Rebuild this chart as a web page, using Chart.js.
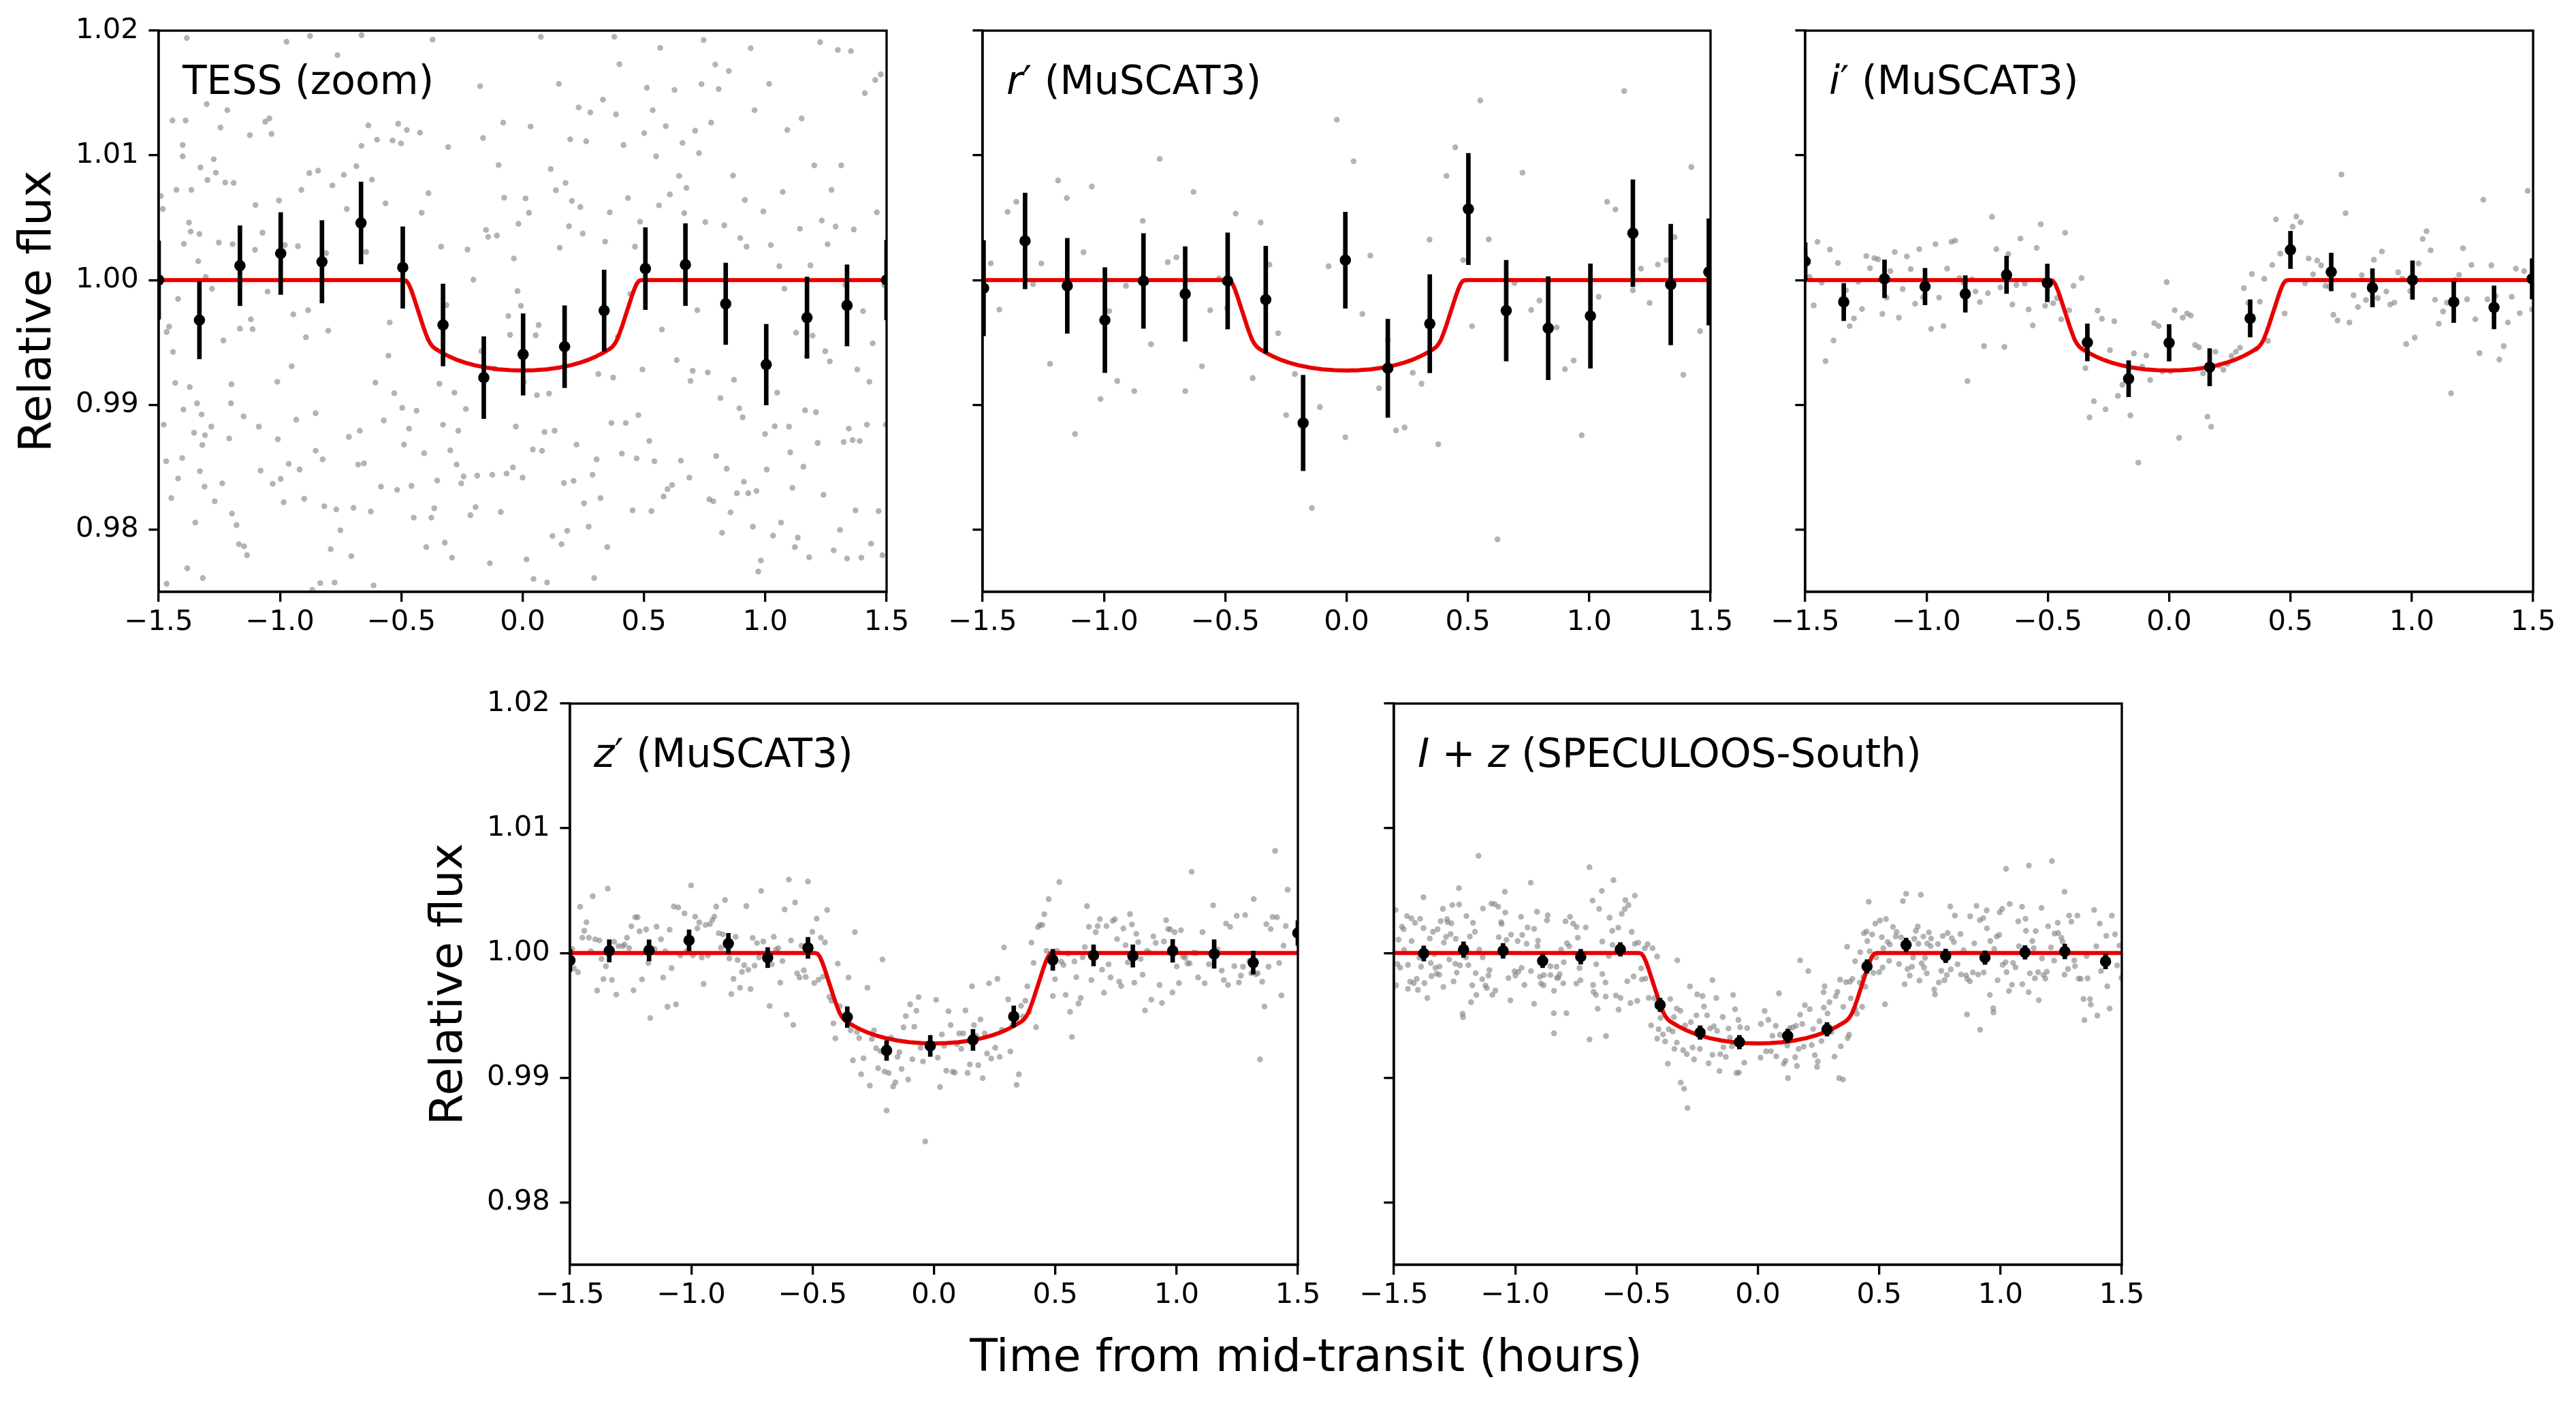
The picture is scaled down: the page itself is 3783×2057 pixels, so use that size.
<!DOCTYPE html>
<html>
<head>
<meta charset="utf-8">
<title>Transit light curves</title>
<script src="https://cdn.jsdelivr.net/npm/chart.js@4.4.1/dist/chart.umd.min.js"></script>
<style>
  html, body { margin: 0; padding: 0; background: #fff; }
  #figure { position: relative; width: 3783px; height: 2057px; background: #fff; overflow: hidden; }
  #figure canvas { position: absolute; }
  #xlabel { position: absolute; left: 1918px; top: 1957px; transform: translateX(-50%);
            font: 66.7px/1 "DejaVu Sans", sans-serif; white-space: nowrap; color: #000; }
</style>
</head>
<body>
<div id="figure">
  <canvas id="tess"></canvas>
  <canvas id="rband"></canvas>
  <canvas id="iband"></canvas>
  <canvas id="zband"></canvas>
  <canvas id="izband"></canvas>
  <div id="xlabel">Time from mid-transit (hours)</div>
</div>
<script>
// ---- axes ----
const timeTicks = [-1.5, -1.0, -0.5, 0.0, 0.5, 1.0, 1.5];
const fluxTicks = [0.98, 0.99, 1.00, 1.01, 1.02];

// ---- transit model (flux offsets in ppt) ----
const modelTime = [-1.5, -0.49, -0.48, -0.47, -0.46, -0.45, -0.44, -0.43, -0.42, -0.41, -0.40, -0.39, -0.38, -0.37, -0.36, -0.35, -0.33, -0.30, -0.27, -0.24, -0.20, -0.15, -0.10, -0.05, 0.0,
  0.05, 0.10, 0.15, 0.20, 0.24, 0.27, 0.30, 0.33, 0.35, 0.36, 0.37, 0.38, 0.39, 0.40, 0.41, 0.42, 0.43, 0.44, 0.45, 0.46, 0.47, 0.48, 0.49, 1.5];
const modelDepth = [0, 0, -0.05, -0.3, -0.75, -1.3, -1.9, -2.5, -3.1, -3.7, -4.25, -4.75, -5.1, -5.35, -5.5, -5.62, -5.85, -6.15, -6.4, -6.6, -6.82, -7.02, -7.15, -7.23, -7.25,
  -7.23, -7.15, -7.02, -6.82, -6.6, -6.4, -6.15, -5.85, -5.62, -5.5, -5.35, -5.1, -4.75, -4.25, -3.7, -3.1, -2.5, -1.9, -1.3, -0.75, -0.3, -0.05, 0, 0];

// ---- TESS ----
const tessBinTime = [-1.5, -1.332, -1.165, -0.997, -0.827, -0.666, -0.494, -0.328, -0.160, 0.002, 0.173, 0.336, 0.506, 0.671, 0.837, 1.004, 1.172, 1.337, 1.5];
const tessBinFlux = [0.0, -3.21, 1.15, 2.13, 1.47, 4.58, 1.01, -3.60, -7.82, -5.96, -5.34, -2.45, 0.92, 1.24, -1.90, -6.78, -3.01, -2.03, 0.0];
const tessBinErr = [3.14, 3.11, 3.21, 3.29, 3.31, 3.29, 3.27, 3.29, 3.29, 3.27, 3.29, 3.26, 3.29, 3.29, 3.27, 3.24, 3.26, 3.26, 3.2];
const tessRaw = [
[-1.491,6.74],[-1.483,5.70],[-1.479,-11.59],[-1.469,-14.53],[-1.467,-4.16],[-1.467,-24.35],[-1.457,-3.73],[-1.448,-17.48],[-1.443,12.80],[-1.441,-5.76],
[-1.432,-8.25],[-1.427,7.23],[-1.420,-15.91],[-1.420,-1.51],[-1.403,-14.27],[-1.401,10.83],[-1.401,9.92],[-1.398,-10.38],[-1.396,2.91],[-1.389,12.80],
[-1.384,19.41],[-1.382,-23.11],[-1.375,4.61],[-1.372,-8.58],[-1.368,3.89],[-1.365,7.23],[-1.354,-12.24],[-1.349,-19.44],[-1.342,-9.88],[-1.337,1.51],
[-1.332,3.70],[-1.330,-15.32],[-1.328,9.03],[-1.323,-10.77],[-1.320,-13.22],[-1.318,-23.89],[-1.311,-16.56],[-1.309,-12.44],[-1.306,0.26],[-1.302,14.11],
[-1.299,8.02],[-1.283,-11.75],[-1.280,-0.69],[-1.273,9.69],[-1.269,-17.74],[-1.264,8.61],[-1.252,3.01],[-1.245,12.24],[-1.238,-16.30],[-1.233,-4.84],
[-1.226,7.82],[-1.217,13.62],[-1.209,-12.70],[-1.202,-9.88],[-1.200,-8.35],[-1.198,-18.72],[-1.195,2.88],[-1.191,7.79],[-1.179,-19.64],[-1.169,-21.18],
[-1.165,-3.89],[-1.150,-10.93],[-1.148,-21.34],[-1.136,-22.06],[-1.124,11.62],[-1.120,-3.14],[-1.113,-3.93],[-1.103,2.42],[-1.101,6.02],[-1.087,-11.75],
[-1.080,-15.28],[-1.072,3.80],[-1.061,12.70],[-1.051,-0.92],[-1.044,12.96],[-1.035,11.72],[-1.030,-16.33],[-1.011,-8.15],[-1.009,-12.76],[-1.004,6.38],
[-0.997,-15.94],[-0.985,-17.81],[-0.980,2.81],[-0.973,19.11],[-0.964,-14.73],[-0.952,-6.91],[-0.945,-2.75],[-0.933,-11.19],[-0.926,2.72],[-0.919,-15.19],
[-0.912,7.23],[-0.900,-17.54],[-0.893,-4.58],[-0.884,-2.42],[-0.879,8.58],[-0.876,19.57],[-0.867,-24.84],[-0.853,-10.67],[-0.853,-13.68],[-0.843,8.77],
[-0.834,-24.29],[-0.824,-14.37],[-0.817,-18.13],[-0.810,2.16],[-0.801,-4.06],[-0.791,-21.57],[-0.784,7.59],[-0.775,-24.25],[-0.768,-18.39],[-0.763,18.03],
[-0.751,-20.06],[-0.737,8.44],[-0.725,5.70],[-0.716,-12.57],[-0.706,-22.13],[-0.697,-18.26],[-0.685,9.13],[-0.678,-14.79],[-0.671,-12.08],[-0.664,19.64],
[-0.664,10.77],[-0.654,-14.70],[-0.645,2.26],[-0.636,12.40],[-0.626,-18.56],[-0.621,8.05],[-0.614,-24.48],[-0.607,-8.22],[-0.600,11.26],[-0.584,-16.56],
[-0.572,-11.26],[-0.565,6.15],[-0.553,-6.06],[-0.548,-3.40],[-0.536,11.19],[-0.529,-9.07],[-0.517,-16.82],[-0.513,12.54],[-0.501,10.96],[-0.496,-10.24],
[-0.489,-13.19],[-0.477,12.04],[-0.468,-11.91],[-0.458,-16.50],[-0.449,-19.05],[-0.437,-10.47],[-0.423,11.82],[-0.416,5.40],[-0.406,-13.88],[-0.397,-21.41],
[-0.388,6.97],[-0.376,-19.05],[-0.371,19.28],[-0.364,-18.30],[-0.352,-16.07],[-0.343,-8.31],[-0.336,2.68],[-0.328,-11.59],[-0.321,-21.05],[-0.314,-2.00],
[-0.307,10.67],[-0.298,-13.65],[-0.291,-22.26],[-0.281,-9.03],[-0.272,-14.79],[-0.265,-12.08],[-0.253,-16.30],[-0.243,-15.74],[-0.234,-10.34],[-0.227,2.45],
[-0.215,-18.85],[-0.203,0.03],[-0.194,-18.20],[-0.187,-15.68],[-0.175,15.55],[-0.170,-5.70],[-0.163,11.39],[-0.151,4.03],[-0.142,3.47],[-0.135,-22.71],
[-0.125,-15.61],[-0.116,-7.10],[-0.106,3.57],[-0.099,9.23],[-0.090,-18.59],[-0.080,12.63],[-0.076,6.61],[-0.066,-15.51],[-0.059,-2.88],[-0.052,-4.39],
[-0.040,-15.02],[-0.036,1.73],[-0.028,-11.75],[-0.021,-0.88],[-0.017,4.52],[-0.007,-2.06],[0.000,-15.84],[0.005,-8.15],[0.012,6.55],[0.016,-22.39],
[0.026,5.40],[0.033,12.31],[0.042,-13.58],[0.045,-23.96],[0.054,-4.42],[0.059,-9.23],[0.066,-3.60],[0.075,19.51],[0.080,-13.68],[0.090,-12.18],
[0.101,-24.25],[0.109,-9.10],[0.116,8.90],[0.123,-20.52],[0.132,-12.08],[0.137,7.20],[0.149,15.74],[0.153,2.59],[0.160,-21.18],[0.170,-16.27],
[0.177,7.79],[0.184,-20.10],[0.191,4.32],[0.196,11.29],[0.203,6.35],[0.210,-16.10],[0.222,-13.19],[0.231,13.84],[0.238,5.86],[0.248,3.73],
[0.253,-17.90],[0.262,11.13],[0.272,-19.77],[0.279,13.45],[0.288,-15.61],[0.295,-23.89],[0.305,-14.37],[0.312,-7.53],[0.321,-17.48],[0.331,14.47],
[0.340,3.08],[0.349,-21.41],[0.359,5.43],[0.366,-11.46],[0.373,-7.82],[0.378,19.51],[0.385,13.29],[0.392,-4.55],[0.399,17.31],[0.409,-13.91],
[0.416,10.83],[0.425,-11.46],[0.434,6.58],[0.444,-1.11],[0.453,-18.46],[0.463,2.68],[0.470,-14.30],[0.477,-10.83],[0.484,4.68],[0.494,-7.17],
[0.501,11.78],[0.512,15.42],[0.522,-12.90],[0.531,-18.52],[0.536,13.62],[0.543,-14.53],[0.550,9.92],[0.562,5.99],[0.567,18.62],[0.574,-3.96],
[0.581,-17.35],[0.590,12.34],[0.597,-16.76],[0.607,6.87],[0.616,-16.43],[0.626,15.25],[0.635,-6.42],[0.645,8.35],[0.652,-14.47],[0.659,11.00],
[0.666,5.37],[0.675,7.40],[0.687,-15.84],[0.692,-8.08],[0.701,-7.27],[0.711,11.98],[0.720,-2.42],[0.727,10.18],[0.737,15.71],[0.746,19.25],
[0.753,4.65],[0.763,-7.40],[0.770,-17.58],[0.777,12.63],[0.786,-17.74],[0.794,17.28],[0.798,-14.11],[0.808,15.32],[0.815,-9.46],[0.822,-20.26],
[0.831,4.39],[0.841,-15.12],[0.850,16.76],[0.857,-18.62],[0.867,8.38],[0.871,-7.99],[0.883,-17.09],[0.893,-10.28],[0.897,3.37],[0.907,-11.00],
[0.912,-16.17],[0.916,6.42],[0.923,2.68],[0.930,-17.09],[0.940,18.59],[0.949,-19.77],[0.956,13.62],[0.964,-16.90],[0.971,-23.37],[0.982,-22.49],
[0.992,5.50],[0.999,-12.34],[1.006,-15.19],[1.016,15.74],[1.023,2.81],[1.032,-20.49],[1.039,-11.72],[1.049,-9.03],[1.058,1.11],[1.065,-19.44],
[1.072,7.07],[1.079,-0.69],[1.091,12.04],[1.098,-11.75],[1.103,-13.81],[1.112,-16.66],[1.122,-21.41],[1.127,-4.22],[1.134,-20.65],[1.143,4.12],
[1.150,12.96],[1.157,-14.96],[1.164,-10.44],[1.171,-6.09],[1.181,-22.22],[1.186,1.18],[1.195,-4.45],[1.202,9.20],[1.209,-10.60],[1.216,-13.06],
[1.226,19.08],[1.233,4.78],[1.240,-17.22],[1.247,-5.70],[1.257,2.88],[1.266,-6.51],[1.273,7.23],[1.282,-21.67],[1.290,4.29],[1.299,18.46],
[1.308,-20.03],[1.313,9.20],[1.323,-12.99],[1.330,-0.39],[1.337,-22.32],[1.344,-11.91],[1.353,18.36],[1.360,-12.83],[1.365,4.06],[1.372,-18.46],
[1.379,-7.17],[1.389,-12.90],[1.396,-22.26],[1.403,-2.49],[1.410,14.99],[1.419,-11.59],[1.429,-8.15],[1.436,-21.14],[1.443,-5.07],[1.453,16.04],
[1.460,5.43],[1.467,-18.52],[1.476,16.50],[1.483,-22.06],[1.490,-0.39],[1.497,-11.59]
];

// ---- r' (MuSCAT3) ----
const rBinTime = [-1.496, -1.325, -1.151, -0.996, -0.837, -0.665, -0.490, -0.333, -0.179, -0.005, 0.170, 0.343, 0.502, 0.658, 0.831, 1.005, 1.180, 1.336, 1.493];
const rBinFlux = [-0.65, 3.14, -0.46, -3.21, -0.07, -1.11, -0.07, -1.57, -11.46, 1.60, -7.07, -3.50, 5.70, -2.45, -3.86, -2.88, 3.76, -0.36, 0.65];
const rBinErr = [3.83, 3.85, 3.81, 4.22, 3.80, 3.80, 3.86, 4.29, 3.83, 3.86, 3.94, 3.94, 4.47, 4.04, 4.14, 4.19, 4.29, 4.84, 4.27];
const rRaw = [
[-1.466,1.34],[-1.431,-2.36],[-1.397,5.47],[-1.361,6.28],[-1.292,-0.33],[-1.258,1.34],[-1.222,-6.71],[-1.189,7.99],[-1.153,6.58],[-1.119,-12.34],
[-1.084,2.23],[-1.050,7.50],[-1.014,-9.53],[-0.978,-2.49],[-0.945,-8.09],[-0.909,-0.46],[-0.875,-8.90],[-0.840,4.75],[-0.806,-5.14],[-0.770,9.72],
[-0.737,1.44],[-0.701,1.83],[-0.665,-8.90],[-0.631,7.07],[-0.596,-6.91],[-0.562,-2.42],[-0.526,0.13],[-0.493,-2.26],[-0.457,5.34],[-0.387,-7.86],
[-0.354,4.62],[-0.318,1.24],[-0.282,-4.26],[-0.249,-10.83],[-0.213,-7.53],[-0.143,-18.27],[-0.110,-10.18],[-0.074,1.11],[-0.040,12.86],[-0.005,-12.60],
[0.029,9.53],[0.065,-2.72],[0.098,1.96],[0.134,-8.67],[0.170,-4.81],[0.204,-12.05],[0.239,-11.82],[0.273,-7.43],[0.309,-8.31],[0.342,3.24],
[0.378,-13.16],[0.412,8.35],[0.448,10.64],[0.481,1.60],[0.517,-3.70],[0.551,14.40],[0.586,3.27],[0.622,-20.79],[0.692,-0.23],[0.725,8.61],
[0.761,-2.39],[0.795,-1.64],[0.866,-3.80],[0.900,-7.14],[0.936,-6.45],[0.969,-12.44],[1.039,-1.34],[1.074,6.28],[1.108,5.66],[1.144,15.16],
[1.180,-0.82],[1.213,0.92],[1.249,-1.83],[1.283,1.24],[1.318,1.60],[1.352,3.44],[1.388,-7.59],[1.421,9.07],[1.457,-4.09]
];

// ---- i' (MuSCAT3) ----
const iBinTime = [-1.5, -1.341, -1.173, -1.006, -0.840, -0.670, -0.502, -0.337, -0.167, 0.0, 0.167, 0.334, 0.500, 0.668, 0.838, 1.003, 1.173, 1.339, 1.496];
const iBinFlux = [1.50, -1.76, 0.10, -0.52, -1.11, 0.42, -0.23, -5.00, -7.91, -5.03, -6.99, -3.07, 2.42, 0.65, -0.62, 0.0, -1.76, -2.19, 0.10];
const iBinErr = [1.5, 1.50, 1.52, 1.47, 1.47, 1.50, 1.52, 1.49, 1.45, 1.47, 1.50, 1.50, 1.50, 1.52, 1.54, 1.55, 1.65, 1.73, 1.62];
const iRaw = [
[-1.500,2.09],[-1.482,0.26],[-1.465,-2.03],[-1.449,3.07],[-1.432,-0.20],[-1.416,-6.50],[-1.398,2.45],[-1.383,-4.84],[-1.365,1.37],[-1.350,-1.50],
[-1.332,-0.82],[-1.317,-3.69],[-1.299,-3.07],[-1.281,-0.13],[-1.266,-2.32],[-1.248,1.93],[-1.233,0.95],[-1.215,1.76],[-1.200,1.67],[-1.182,-2.71],
[-1.164,-1.41],[-1.149,0.72],[-1.131,2.25],[-1.114,-3.01],[-1.098,-0.72],[-1.081,1.90],[-1.065,0.88],[-1.047,-1.90],[-1.030,2.48],[-1.014,-1.37],
[-0.997,-0.07],[-0.981,-3.92],[-0.963,2.88],[-0.948,-1.41],[-0.930,-3.69],[-0.915,0.92],[-0.897,3.07],[-0.882,3.17],[-0.864,0.16],[-0.847,-0.20],
[-0.831,-8.10],[-0.813,0.07],[-0.798,-0.92],[-0.780,-1.76],[-0.763,-5.29],[-0.747,-1.05],[-0.730,5.07],[-0.712,2.48],[-0.696,-0.59],[-0.679,-5.36],
[-0.663,2.09],[-0.646,-1.96],[-0.630,-0.39],[-0.613,3.33],[-0.595,-0.29],[-0.579,-2.35],[-0.562,-3.63],[-0.546,2.58],[-0.529,4.48],[-0.511,-2.06],
[-0.496,-0.29],[-0.478,-1.86],[-0.462,-1.44],[-0.445,-3.14],[-0.429,3.79],[-0.412,-2.42],[-0.394,-0.46],[-0.361,0.16],[-0.345,-7.06],[-0.328,-11.01],
[-0.310,-9.71],[-0.295,-2.45],[-0.277,-3.10],[-0.262,-10.36],[-0.244,-5.62],[-0.226,-3.30],[-0.211,-9.28],[-0.193,-8.40],[-0.178,-8.04],[-0.160,-10.85],
[-0.145,-5.88],[-0.127,-14.64],[-0.111,-6.93],[-0.094,-6.05],[-0.078,-8.01],[-0.061,-3.46],[-0.043,-3.69],[-0.028,-7.32],[-0.010,-0.16],[0.006,-7.32],
[0.023,-2.42],[0.041,-12.65],[0.056,-3.01],[0.074,-2.68],[0.089,-2.84],[0.107,-5.20],[0.123,-5.39],[0.140,-7.48],[0.158,-10.95],[0.173,-11.76],
[0.191,-5.75],[0.206,-6.86],[0.224,-7.19],[0.240,-6.73],[0.257,-6.08],[0.275,-5.75],[0.292,-5.42],[0.308,-0.65],[0.326,-1.83],[0.341,0.49],
[0.359,-5.52],[0.374,-1.73],[0.392,0.10],[0.407,-4.87],[0.425,1.21],[0.440,4.87],[0.458,2.12],[0.476,-2.68],[0.491,2.45],[0.509,4.28],
[0.524,5.10],[0.542,4.64],[0.560,-0.26],[0.575,1.73],[0.593,0.46],[0.610,1.57],[0.626,1.18],[0.644,-0.46],[0.659,-0.52],[0.677,-2.78],
[0.694,-3.24],[0.710,8.46],[0.727,5.36],[0.743,-3.40],[0.760,-1.21],[0.778,-2.16],[0.794,0.39],[0.811,-1.60],[0.827,-0.39],[0.844,1.63],
[0.860,-1.44],[0.877,2.29],[0.895,-0.92],[0.911,-1.96],[0.928,-1.80],[0.944,0.62],[0.961,0.10],[0.977,-5.13],[0.994,-0.88],[1.012,-4.61],
[1.028,1.34],[1.045,3.30],[1.061,3.92],[1.078,2.39],[1.096,-1.57],[1.111,-3.50],[1.129,-2.52],[1.145,-1.80],[1.162,-9.08],[1.178,0.00],
[1.195,0.42],[1.211,2.55],[1.228,-1.54],[1.246,1.21],[1.262,-3.14],[1.279,-5.85],[1.295,6.44],[1.312,-1.54],[1.328,1.18],[1.346,-1.27],
[1.361,-6.37],[1.379,-5.29],[1.396,-3.40],[1.412,-1.34],[1.429,0.92],[1.445,-2.65],[1.463,0.72],[1.478,7.16],[1.496,-2.35]
];

// ---- z' (MuSCAT3) ----
const zBinTime = [-1.5, -1.338, -1.174, -1.009, -0.847, -0.685, -0.519, -0.357, -0.195, -0.015, 0.161, 0.329, 0.490, 0.658, 0.820, 0.984, 1.155, 1.316, 1.5];
const zBinFlux = [-0.59, 0.17, 0.21, 1.01, 0.76, -0.37, 0.41, -5.14, -7.82, -7.45, -6.97, -5.09, -0.55, -0.19, -0.24, 0.17, -0.08, -0.77, 1.60];
const zBinErr = [0.9, 0.9, 0.85, 0.85, 0.82, 0.81, 0.85, 0.84, 0.80, 0.85, 0.85, 0.85, 0.85, 0.85, 0.9, 0.92, 1.15, 0.93, 1.0];
const zRaw = [
[-1.491,0.32],[-1.483,-1.23],[-1.467,-1.54],[-1.458,3.71],[-1.449,1.23],[-1.441,1.78],[-1.432,2.47],[-1.422,1.23],[-1.414,0.14],[-1.406,4.55],
[-1.396,1.09],[-1.388,-3.01],[-1.379,1.01],[-1.370,-0.48],[-1.362,-2.09],[-1.352,-1.06],[-1.344,5.16],[-1.327,-2.16],[-1.318,0.90],[-1.309,-3.33],
[-1.300,0.56],[-1.283,0.54],[-1.275,0.68],[-1.265,1.23],[-1.256,0.39],[-1.247,2.14],[-1.238,-2.99],[-1.231,2.87],[-1.221,2.87],[-1.213,1.74],
[-1.203,-2.12],[-1.186,1.89],[-1.177,-0.81],[-1.169,-5.22],[-1.151,0.32],[-1.143,2.11],[-1.125,1.10],[-1.116,-1.97],[-1.107,0.14],[-1.098,-4.31],
[-1.089,1.87],[-1.081,-1.21],[-1.072,3.73],[-1.063,-4.12],[-1.054,3.66],[-1.045,-0.19],[-1.028,3.18],[-1.019,0.14],[-1.001,5.42],[-0.993,-0.19],
[-0.984,2.92],[-0.975,1.98],[-0.967,2.45],[-0.957,-0.35],[-0.949,-2.48],[-0.941,2.25],[-0.931,-0.19],[-0.923,2.32],[-0.913,2.65],[-0.905,2.92],
[-0.897,3.72],[-0.887,1.58],[-0.878,0.43],[-0.870,1.50],[-0.861,4.25],[-0.843,-0.43],[-0.835,-3.29],[-0.826,-2.07],[-0.817,1.30],[-0.809,-0.57],
[-0.799,-2.79],[-0.791,-1.52],[-0.782,-0.97],[-0.773,3.76],[-0.765,-1.34],[-0.756,-2.89],[-0.747,1.21],[-0.739,-1.01],[-0.729,0.80],[-0.721,-0.35],
[-0.712,4.98],[-0.703,0.92],[-0.695,-0.55],[-0.677,-4.25],[-0.668,-0.90],[-0.660,1.30],[-0.651,0.27],[-0.641,0.39],[-0.633,-2.38],[-0.624,-0.64],
[-0.615,3.49],[-0.607,-4.94],[-0.598,5.88],[-0.589,1.01],[-0.580,-5.76],[-0.572,4.05],[-0.564,-1.63],[-0.554,-1.96],[-0.546,0.58],[-0.536,-1.39],
[-0.528,-1.92],[-0.519,5.73],[-0.501,1.70],[-0.493,-2.41],[-0.483,2.76],[-0.475,-2.14],[-0.466,1.23],[-0.457,-1.90],[-0.449,0.85],[-0.440,3.45],
[-0.431,-3.52],[-0.422,-3.83],[-0.414,-5.64],[-0.406,-6.84],[-0.396,-0.85],[-0.388,-4.27],[-0.352,-1.97],[-0.343,-6.20],[-0.334,-8.61],[-0.326,1.68],
[-0.317,-6.33],[-0.308,-6.82],[-0.300,-9.72],[-0.290,-8.44],[-0.274,-2.79],[-0.264,-10.63],[-0.256,-6.90],[-0.247,-6.20],[-0.238,-7.64],[-0.230,-9.24],
[-0.220,-7.88],[-0.212,-0.52],[-0.203,-9.50],[-0.195,-12.63],[-0.186,-9.62],[-0.177,-6.78],[-0.168,-10.70],[-0.159,-10.37],[-0.150,-8.33],[-0.142,-7.95],
[-0.133,-9.30],[-0.125,-5.96],[-0.116,-5.05],[-0.106,-10.15],[-0.098,-4.12],[-0.089,-8.52],[-0.081,-5.91],[-0.072,-4.63],[-0.063,-3.54],[-0.055,-7.60],
[-0.045,-8.70],[-0.036,-15.11],
[0.009,-3.76],[0.016,-8.39],[0.025,-10.74],[0.033,-6.53],[0.042,-7.44],[0.051,-9.44],[0.060,-4.67],[0.069,-5.78],[0.077,-9.52],[0.086,-9.59],
[0.095,-7.30],[0.104,-6.45],[0.113,-7.69],[0.121,-6.45],[0.130,-4.60],[0.139,-9.62],[0.148,-8.93],[0.157,-2.67],[0.165,-5.78],[0.175,-6.64],
[0.183,-8.99],[0.192,-5.33],[0.201,-10.04],[0.209,-6.45],[0.219,-8.06],[0.227,-2.43],[0.236,-8.46],[0.253,-7.60],[0.262,-2.07],[0.271,-8.33],
[0.280,-6.16],[0.289,0.45],[0.306,-3.72],[0.315,-7.89],[0.323,-5.80],[0.341,-10.57],[0.350,-9.73],[0.359,-4.23],[0.367,-5.09],[0.377,-3.83],
[0.385,-2.67],[0.394,-4.73],[0.402,0.83],[0.411,-0.79],[0.421,-5.95],[0.429,2.07],[0.437,2.25],[0.447,2.25],[0.455,3.11],[0.464,0.17],
[0.473,4.32],[0.481,-0.04],[0.490,-3.45],[0.499,-2.10],[0.508,0.17],[0.517,5.69],[0.525,-0.70],[0.534,-0.95],[0.543,-3.36],[0.552,-0.04],
[0.561,-4.71],[0.569,-6.73],[0.579,-0.68],[0.587,-1.94],[0.596,-4.05],[0.605,-3.61],[0.613,-0.34],[0.622,0.48],[0.631,3.76],[0.639,2.10],
[0.649,-2.17],[0.657,-0.23],[0.667,1.67],[0.675,2.16],[0.684,2.72],[0.693,-1.34],[0.701,-3.18],[0.711,2.16],[0.720,-0.90],[0.728,-1.96],
[0.737,2.58],[0.746,2.71],[0.755,1.12],[0.764,-2.30],[0.772,-2.65],[0.781,1.96],[0.790,0.63],[0.799,-0.75],[0.808,3.12],[0.816,2.29],
[0.826,-2.38],[0.834,1.54],[0.842,0.87],[0.852,-0.48],[0.860,-1.74],[0.870,-4.60],[0.878,0.17],[0.887,0.05],[0.896,-3.74],[0.904,1.34],
[0.914,0.81],[0.930,-2.56],[0.940,-4.00],[0.948,0.92],[0.957,2.63],[0.965,1.92],[0.974,1.89],[0.983,-3.16],[0.992,1.67],[1.001,-1.08],
[1.010,-2.41],[1.018,1.83],[1.027,-0.28],[1.036,-0.39],[1.045,-0.83],[1.054,-0.83],[1.062,6.51],[1.071,0.03],[1.080,0.00],[1.089,-1.96],
[1.107,1.67],[1.116,-2.43],[1.133,-0.90],[1.151,3.82],[1.169,0.28],[1.186,-1.41],[1.195,-2.17],[1.204,2.36],[1.212,-2.56],[1.221,2.10],
[1.238,-1.05],[1.248,2.98],[1.257,-2.36],[1.265,-1.81],[1.274,-1.10],[1.283,3.04],[1.300,-0.64],[1.308,-1.63],[1.318,4.33],[1.327,-1.70],
[1.335,-1.61],[1.344,-8.53],[1.353,-2.30],[1.362,-4.29],[1.370,2.31],[1.379,-1.10],[1.388,1.92],[1.396,2.89],[1.406,8.19],[1.414,2.87],
[1.423,-0.79],[1.432,-3.40],[1.441,0.59],[1.450,2.16],[1.458,5.07]
];

// ---- I+z (SPECULOOS-South) ----
const izBinTime = [-1.377, -1.213, -1.050, -0.887, -0.730, -0.567, -0.403, -0.238, -0.076, 0.123, 0.285, 0.450, 0.611, 0.774, 0.936, 1.101, 1.265, 1.433];
const izBinFlux = [-0.04, 0.27, 0.17, -0.63, -0.30, 0.29, -4.16, -6.38, -7.15, -6.65, -6.12, -1.08, 0.65, -0.23, -0.37, 0.05, 0.12, -0.68];
const izBinErr = [0.61, 0.63, 0.6, 0.55, 0.6, 0.55, 0.55, 0.55, 0.55, 0.55, 0.55, 0.55, 0.55, 0.55, 0.55, 0.55, 0.6, 0.6];
const izRaw = [
[-1.493,3.45],[-1.491,-2.59],[-1.486,-0.88],[-1.481,1.07],[-1.474,-1.17],[-1.467,2.11],[-1.460,1.91],[-1.458,0.25],[-1.446,2.96],[-1.442,-0.95],
[-1.442,-2.87],[-1.433,-2.30],[-1.428,2.78],[-1.427,0.96],[-1.418,-2.41],[-1.413,2.42],[-1.406,-2.08],[-1.401,-2.96],[-1.395,-0.37],[-1.392,2.74],
[-1.388,-1.10],[-1.378,4.47],[-1.378,2.00],[-1.374,-2.41],[-1.362,-3.61],[-1.352,1.16],[-1.348,-0.81],[-1.345,-1.85],[-1.339,1.70],[-1.333,-0.10],
[-1.329,-1.19],[-1.324,-1.66],[-1.320,1.91],[-1.313,-1.74],[-1.312,-1.08],[-1.307,2.56],[-1.298,3.54],[-1.296,-2.72],[-1.294,0.83],[-1.285,1.29],
[-1.281,2.72],[-1.279,2.47],[-1.272,-0.52],[-1.266,1.52],[-1.263,2.38],[-1.259,3.85],[-1.254,-2.28],[-1.247,-0.86],[-1.245,1.14],[-1.241,-1.57],
[-1.232,5.20],[-1.231,3.89],[-1.228,-0.99],[-1.217,-4.87],[-1.215,-5.14],[-1.203,-0.35],[-1.201,2.96],[-1.193,-0.97],[-1.187,1.32],[-1.182,-3.94],
[-1.177,-2.59],[-1.174,2.42],[-1.166,1.70],[-1.163,-1.61],[-1.160,-3.36],[-1.151,7.79],[-1.148,0.27],[-1.136,-2.10],[-1.133,3.56],[-1.134,-0.35],
[-1.123,-2.61],[-1.117,-2.81],[-1.110,-1.81],[-1.106,-1.37],[-1.098,3.96],[-1.094,-3.36],[-1.085,3.93],[-1.082,-3.01],[-1.070,3.71],[-1.068,1.27],
[-1.058,2.47],[-1.056,2.32],[-1.043,4.91],[-1.041,3.25],[-1.036,1.05],[-1.028,-2.01],[-1.020,-3.80],[-1.017,1.47],[-1.003,-1.46],[-0.999,-1.81],
[-0.990,0.96],[-0.987,-1.50],[-0.976,2.91],[-0.974,-1.19],[-0.971,1.45],[-0.962,-2.56],[-0.953,0.74],[-0.949,2.05],[-0.936,5.64],[-0.935,-1.45],
[-0.922,1.94],[-0.922,-4.07],[-0.910,3.31],[-0.908,0.54],[-0.906,0.99],[-0.898,-1.90],[-0.894,-2.45],[-0.883,-2.59],[-0.882,-1.77],[-0.869,2.62],
[-0.866,3.03],[-0.855,-1.76],[-0.855,-1.06],[-0.840,-3.03],[-0.841,-4.83],[-0.840,-6.44],[-0.830,-1.10],[-0.828,-1.99],[-0.822,-1.98],[-0.817,-1.70],
[-0.811,0.27],[-0.802,-2.43],[-0.800,-0.74],[-0.793,2.54],[-0.789,-4.83],[-0.787,0.79],[-0.777,0.54],[-0.774,2.91],[-0.761,2.36],[-0.747,2.09],
[-0.748,-2.45],[-0.742,1.23],[-0.735,-1.21],[-0.731,-2.19],[-0.709,2.05],[-0.694,6.88],[-0.694,-6.93],[-0.681,4.20],[-0.679,-2.56],[-0.677,-3.12],
[-0.667,-3.36],[-0.666,-0.90],[-0.660,-4.47],[-0.654,3.54],[-0.643,4.98],[-0.641,-1.68],[-0.641,0.92],[-0.628,-2.36],[-0.627,-3.49],[-0.626,-6.66],
[-0.614,-0.24],[-0.611,2.83],[-0.600,1.78],[-0.599,0.65],[-0.595,5.84],[-0.585,-3.41],[-0.575,2.03],[-0.574,-4.54],[-0.566,-3.60],[-0.561,3.14],
[-0.548,3.53],[-0.546,4.24],[-0.533,3.84],[-0.538,-2.27],[-0.525,-4.01],[-0.520,1.70],[-0.512,-1.88],[-0.507,4.60],[-0.507,0.74],[-0.497,-3.83],
[-0.493,0.83],[-0.481,-1.23],[-0.478,-2.12],[-0.466,0.38],[-0.463,-2.05],[-0.454,0.70],[-0.450,-3.60],[-0.440,-5.80],[-0.434,0.38],[-0.427,-3.63],
[-0.415,-0.28],[-0.415,-6.86],[-0.409,-6.11],[-0.401,-5.20],[-0.391,-6.53],[-0.382,-7.09],[-0.371,-8.88],[-0.367,-6.11],[-0.361,-3.69],[-0.351,-6.29],
[-0.344,-7.69],[-0.346,-5.14],[-0.334,-7.18],[-0.334,-4.45],[-0.332,-0.59],[-0.319,-4.63],[-0.318,-10.39],[-0.308,-7.79],[-0.304,-10.88],[-0.300,-5.80],
[-0.293,-8.11],[-0.290,-12.43],[-0.280,-2.68],[-0.276,-5.54],[-0.269,-7.58],[-0.263,-8.53],[-0.253,-5.00],[-0.250,-3.32],[-0.239,-7.69],[-0.228,-3.45],
[-0.222,-4.29],[-0.209,-5.00],[-0.203,-8.84],[-0.197,-6.05],[-0.187,-2.17],[-0.187,-8.17],[-0.181,-5.87],[-0.171,-3.61],[-0.168,-6.24],[-0.158,-9.46],
[-0.155,-8.11],[-0.145,-5.13],[-0.142,-7.55],[-0.132,-8.33],[-0.121,-6.05],[-0.115,-6.78],[-0.107,-7.48],[-0.102,-3.36],[-0.094,-4.51],[-0.088,-9.62],
[-0.080,-5.36],[-0.078,-9.59],[-0.073,-5.95],[-0.056,-8.79],[-0.044,-6.02],
[0.011,-8.39],[0.013,-5.69],[0.028,-4.65],[0.034,-7.88],[0.043,-5.36],[0.054,-7.88],[0.060,-6.64],[0.074,-5.84],[0.076,-8.28],[0.087,-3.23],
[0.091,-6.56],[0.107,-8.88],[0.114,-8.64],[0.124,-10.03],[0.121,-7.42],[0.131,-6.02],[0.144,-5.96],[0.154,-8.35],[0.157,-5.84],[0.161,-9.06],
[0.168,-7.69],[0.174,-0.59],[0.174,-4.94],[0.183,-5.69],[0.189,-7.51],[0.194,-4.18],[0.208,-1.45],[0.214,-4.51],[0.222,-7.38],[0.228,-6.09],
[0.235,-8.19],[0.247,-8.70],[0.244,-9.13],[0.254,-5.47],[0.262,-7.06],[0.271,-3.14],[0.275,-2.67],[0.272,-4.38],[0.287,-4.85],[0.295,-3.94],
[0.304,-6.33],[0.316,-8.30],[0.321,-3.47],[0.328,-3.12],[0.335,-10.03],[0.339,-2.14],[0.342,-7.48],[0.351,-10.15],[0.352,-4.32],[0.363,-2.34],
[0.368,0.50],[0.370,-6.82],[0.376,-6.55],[0.380,-2.30],[0.383,-3.63],[0.390,-2.08],[0.401,-0.66],[0.402,-4.49],[0.408,-4.87],[0.420,-2.38],
[0.422,0.07],[0.430,-4.32],[0.435,-1.92],[0.437,1.58],[0.443,-2.70],[0.448,1.72],[0.451,0.96],[0.457,4.11],[0.461,0.14],[0.471,1.49],
[0.476,-1.59],[0.484,2.36],[0.487,-0.35],[0.500,-1.54],[0.503,2.60],[0.511,1.27],[0.514,-1.17],[0.517,0.38],[0.524,-4.11],[0.528,2.72],
[0.535,0.89],[0.541,-0.63],[0.544,0.68],[0.557,2.09],[0.568,1.32],[0.572,1.69],[0.582,-0.88],[0.590,1.27],[0.598,4.16],[0.605,-2.50],
[0.611,4.75],[0.617,-1.28],[0.626,-1.81],[0.635,-1.10],[0.640,-0.35],[0.645,1.14],[0.651,1.78],[0.659,2.12],[0.662,0.74],[0.666,-2.21],
[0.672,4.67],[0.675,-0.83],[0.682,1.32],[0.685,-1.17],[0.689,-0.39],[0.696,-1.63],[0.698,0.76],[0.705,1.65],[0.712,0.56],[0.714,1.16],
[0.727,-2.92],[0.730,-3.32],[0.742,0.72],[0.746,-2.36],[0.756,-1.43],[0.762,1.36],[0.769,-2.19],[0.782,1.60],[0.779,-1.76],[0.793,3.73],
[0.795,-1.32],[0.799,1.19],[0.808,0.87],[0.812,3.00],[0.823,-0.90],[0.835,1.52],[0.837,-1.72],[0.848,0.23],[0.858,-1.79],[0.862,-4.93],
[0.863,-2.08],[0.875,2.94],[0.874,-2.27],[0.886,-1.56],[0.892,0.78],[0.901,3.78],[0.908,-1.72],[0.915,2.63],[0.916,-6.15],[0.929,2.80],
[0.931,-1.56],[0.943,3.42],[0.944,1.98],[0.956,-3.36],[0.958,0.96],[0.970,-4.43],[0.971,-4.76],[0.974,0.32],[0.984,1.32],[0.988,-2.19],
[0.997,3.27],[0.995,1.45],[1.007,3.54],[1.009,-0.95],[1.021,-0.74],[1.023,6.75],[1.025,-1.54],[1.038,3.93],[1.035,-3.05],[1.047,-2.54],
[1.052,-0.79],[1.062,-1.15],[1.073,2.54],[1.076,0.54],[1.089,3.71],[1.090,-2.50],[1.103,2.74],[1.105,1.78],[1.116,-3.14],[1.117,7.01],
[1.121,-1.63],[1.131,0.96],[1.137,0.38],[1.142,-2.03],[1.145,1.76],[1.155,-1.54],[1.158,-3.78],[1.169,3.62],[1.171,-0.43],[1.177,-1.76],
[1.185,-2.05],[1.191,-1.50],[1.196,2.14],[1.208,0.45],[1.212,7.37],[1.221,-0.61],[1.223,1.56],[1.236,2.43],[1.238,1.60],[1.251,1.23],
[1.256,0.90],[1.264,-1.74],[1.264,4.91],[1.278,-1.28],[1.283,3.00],[1.292,2.51],[1.304,-0.59],[1.307,-1.05],[1.317,3.00],[1.322,-2.05],
[1.331,-2.07],[1.342,-3.69],[1.346,-5.38],[1.355,-0.24],[1.359,-2.03],[1.369,-3.69],[1.372,-4.14],[1.386,3.45],[1.395,0.54],[1.399,-5.02],
[1.409,2.36],[1.414,-1.45],[1.436,1.38],[1.440,-2.67],[1.450,-4.45],[1.459,3.00],[1.472,1.50],[1.481,-1.00],[1.490,0.60],[1.498,-2.00]
];

// ---- panel labels ([text, italic]) ----
const tessLabel = [['TESS (zoom)', false]];
const rLabel = [['r', true], ['\u2032 (MuSCAT3)', false]];
const iLabel = [['i', true], ['\u2032 (MuSCAT3)', false]];
const zLabel = [['z', true], ['\u2032 (MuSCAT3)', false]];
const izLabel = [['I', true], [' + ', false], ['z', true], [' (SPECULOOS-South)', false]];

// ============================================================
const FONT = '"DejaVu Sans", sans-serif';
const AXIS_W = 3.33;
const TICK_LEN = 14.6;
const TICK_FONT = 41.7;
const LABEL_FONT = 58.3;
const PLOT_W = 1069, PLOT_H = 824;
const RED = 'rgb(232, 0, 0)';
const GREY = 'rgba(128, 128, 128, 0.6)';

Chart.defaults.font.family = FONT;
Chart.defaults.color = '#000';

const toFlux = v => 1 + v / 1000;
const fmtTime = v => (v < 0 ? '\u2212' + (-v).toFixed(1) : v.toFixed(1));

// axes box (matplotlib draws all four spines)
const framePlugin = {
  id: 'frame',
  afterDatasetsDraw(chart) {
    const { ctx, chartArea: a } = chart;
    ctx.save();
    ctx.strokeStyle = '#000';
    ctx.lineWidth = AXIS_W;
    ctx.strokeRect(a.left, a.top, a.right - a.left, a.bottom - a.top);
    ctx.restore();
  },
};

// panel label, mixed upright / italic parts
function labelPlugin(parts) {
  return {
    id: 'panelLabel',
    afterDraw(chart) {
      const { ctx, chartArea } = chart;
      let x = chartArea.left + 35;
      const y = chartArea.top + 93;
      ctx.save();
      ctx.fillStyle = '#000';
      ctx.textAlign = 'left';
      ctx.textBaseline = 'alphabetic';
      parts.forEach(([text, italic]) => {
        ctx.font = (italic ? 'italic ' : '') + LABEL_FONT + 'px ' + FONT;
        ctx.fillText(text, x, y);
        x += ctx.measureText(text).width;
      });
      ctx.restore();
    },
  };
}

function axisStyle() {
  return {
    grid: { display: true, offset: false, drawOnChartArea: false, drawTicks: true, tickLength: TICK_LEN,
            tickWidth: AXIS_W, tickColor: '#000', color: '#000', lineWidth: AXIS_W },
    border: { display: true, color: '#000', width: AXIS_W },
  };
}

function makePanel(p) {
  const canvas = document.getElementById(p.id);
  const yW = p.yLabels ? 233 : 60;
  const padTop = 20, padRight = 45, xH = 90;
  canvas.width = yW + PLOT_W + padRight;
  canvas.height = padTop + PLOT_H + xH;
  canvas.style.left = (p.left - yW) + 'px';
  canvas.style.top = (p.top - padTop) + 'px';

  const raw = p.raw.map(([t, v]) => ({ x: t, y: toFlux(v) }));
  const model = modelTime.map((t, i) => ({ x: t, y: toFlux(modelDepth[i]) }));
  const bins = p.binTime.map((t, i) => ({ x: t, y: toFlux(p.binFlux[i]) }));
  const bars = p.binTime.map((t, i) => ({ x: t, y: [toFlux(p.binFlux[i] - p.binErr[i]), toFlux(p.binFlux[i] + p.binErr[i])] }));

  return new Chart(canvas.getContext('2d'), {
    type: 'scatter',
    data: {
      datasets: [
        { type: 'scatter', data: bins, order: 1, pointRadius: 8.3, pointBackgroundColor: '#000', pointBorderWidth: 0, clip: 0 },
        { type: 'bar', data: bars, order: 2, barThickness: 6, backgroundColor: '#000', borderWidth: 0, clip: 0 },
        { type: 'line', data: model, order: 3, borderColor: RED, borderWidth: 6, pointRadius: 0, fill: false, tension: 0, clip: 0 },
        { type: 'scatter', data: raw, order: 4, pointRadius: 4.3, pointBackgroundColor: GREY, pointBorderWidth: 0, clip: 0 },
      ],
    },
    options: {
      responsive: false,
      animation: false,
      devicePixelRatio: 1,
      events: [],
      layout: { padding: { top: padTop, right: padRight, left: 0, bottom: 0 } },
      plugins: { legend: { display: false }, tooltip: { enabled: false } },
      scales: {
        x: {
          type: 'linear', min: -1.5, max: 1.5, offset: false,
          ...axisStyle(),
          ticks: { autoSkip: false, maxRotation: 0, padding: 6, color: '#000', font: { size: TICK_FONT }, callback: v => fmtTime(v) },
          afterBuildTicks: s => { s.ticks = timeTicks.map(v => ({ value: v })); },
          afterFit: s => { s.height = xH; s.paddingLeft = 0; s.paddingRight = 0; },
        },
        y: {
          type: 'linear', min: 0.975, max: 1.02, beginAtZero: false,
          ...axisStyle(),
          ticks: { display: p.yLabels, padding: 14.6, color: '#000', font: { size: TICK_FONT }, callback: v => v.toFixed(2) },
          title: { display: p.yLabels, text: 'Relative flux', color: '#000', font: { size: 66.7 }, padding: { top: 17, bottom: 0 } },
          afterBuildTicks: s => { s.ticks = fluxTicks.map(v => ({ value: v })); },
          afterFit: s => { s.width = yW; s.paddingTop = 0; s.paddingBottom = 0; },
        },
      },
    },
    plugins: [framePlugin, labelPlugin(p.label)],
  });
}

const panels = [
  { id: 'tess',   left: 233,  top: 45,   yLabels: true,  raw: tessRaw, binTime: tessBinTime, binFlux: tessBinFlux, binErr: tessBinErr, label: tessLabel },
  { id: 'rband',  left: 1443, top: 45,   yLabels: false, raw: rRaw,    binTime: rBinTime,    binFlux: rBinFlux,    binErr: rBinErr,    label: rLabel },
  { id: 'iband',  left: 2651, top: 45,   yLabels: false, raw: iRaw,    binTime: iBinTime,    binFlux: iBinFlux,    binErr: iBinErr,    label: iLabel },
  { id: 'zband',  left: 837,  top: 1033, yLabels: true,  raw: zRaw,    binTime: zBinTime,    binFlux: zBinFlux,    binErr: zBinErr,    label: zLabel },
  { id: 'izband', left: 2047, top: 1033, yLabels: false, raw: izRaw,   binTime: izBinTime,   binFlux: izBinFlux,   binErr: izBinErr,   label: izLabel },
];

panels.forEach(makePanel);
</script>
</body>
</html>
